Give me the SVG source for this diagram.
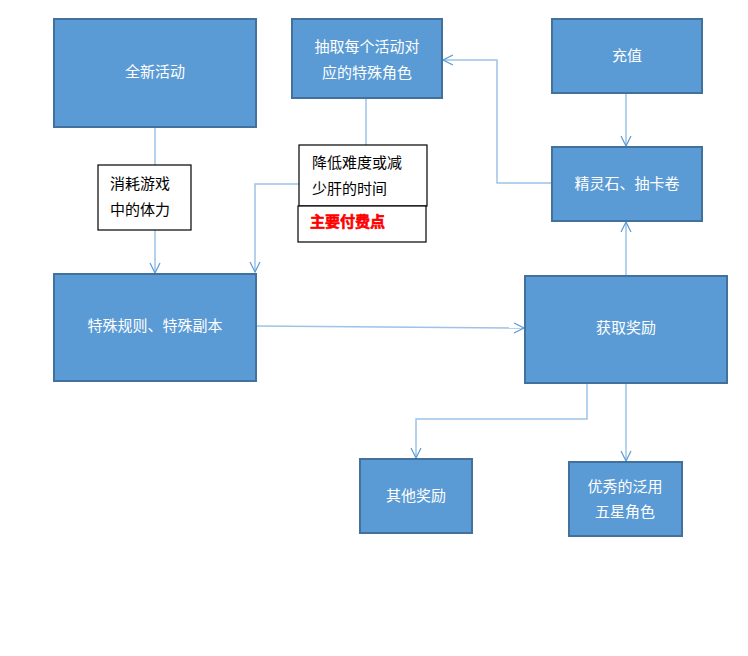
<svg xmlns="http://www.w3.org/2000/svg" width="748" height="656" viewBox="0 0 748 656">
<style>
.n{fill:#5b9bd5;stroke:#41719c;stroke-width:2}
.t{font-family:"Liberation Sans","Noto Sans CJK SC",sans-serif;font-size:15px;fill:#fff;text-anchor:middle}
.k{fill:#000;text-anchor:start}
.lb{fill:#fff;stroke:#000;stroke-width:1.2}
.c{fill:none;stroke:#9dc3e6;stroke-width:1.5;marker-end:url(#a)}
.p{fill:none;stroke:#9dc3e6;stroke-width:1.5}
</style>
<defs><marker id="a" viewBox="0 0 12 12" refX="11" refY="6" markerWidth="12" markerHeight="12" markerUnits="userSpaceOnUse" orient="auto"><path d="M1,1 L11,6 L1,11" fill="none" stroke="#5b9bd5" stroke-width="1.2"/></marker></defs>
<rect width="748" height="656" fill="#fff"/>
<g id="connectors">
<path class="c" d="M155,127 V273"/>
<path class="p" d="M366,98 V145"/>
<path class="c" d="M299,184 H255 V272"/>
<path class="c" d="M552,183 H497 V60 H443"/>
<path class="c" d="M626,93 V146"/>
<path class="c" d="M256,326 L524,328"/>
<path class="c" d="M626,276 V222"/>
<path class="c" d="M587,383 V419 H416 V458"/>
<path class="c" d="M626,383 V461"/>
</g>
<g id="n1"><rect class="n" x="54" y="19" width="202" height="108"/><text class="t" x="155" y="77">全新活动</text></g>
<g id="n2"><rect class="n" x="292" y="19" width="150" height="79"/><text class="t" x="367" y="52">抽取每个活动对</text><text class="t" x="367" y="78">应的特殊角色</text></g>
<g id="n3"><rect class="n" x="552" y="19" width="150" height="74"/><text class="t" x="627" y="61">充值</text></g>
<g id="n4"><rect class="n" x="552" y="147" width="150" height="74"/><text class="t" x="627" y="189">精灵石、抽卡卷</text></g>
<g id="n5"><rect class="n" x="54" y="274" width="202" height="107"/><text class="t" x="155" y="331">特殊规则、特殊副本</text></g>
<g id="n6"><rect class="n" x="525" y="276" width="202" height="107"/><text class="t" x="626" y="333">获取奖励</text></g>
<g id="n7"><rect class="n" x="360" y="459" width="112" height="74"/><text class="t" x="416" y="501">其他奖励</text></g>
<g id="n8"><rect class="n" x="569" y="462" width="113" height="74"/><text class="t" x="625" y="492">优秀的泛用</text><text class="t" x="625" y="517">五星角色</text></g>
<g id="l1"><rect class="lb" x="98" y="165" width="93" height="65"/><text class="t k" x="110" y="189">消耗游戏</text><text class="t k" x="110" y="215">中的体力</text></g>
<g id="l2"><rect class="lb" x="299" y="145" width="128" height="61"/><text class="t k" x="312" y="168">降低难度或减</text><text class="t k" x="312" y="194">少肝的时间</text></g>
<g id="l3"><rect class="lb" x="298" y="206" width="128" height="36"/><text class="t k" x="310" y="227" style="fill:#f00;font-weight:bold;stroke:#f00;stroke-width:0.6">主要付费点</text></g>
</svg>
